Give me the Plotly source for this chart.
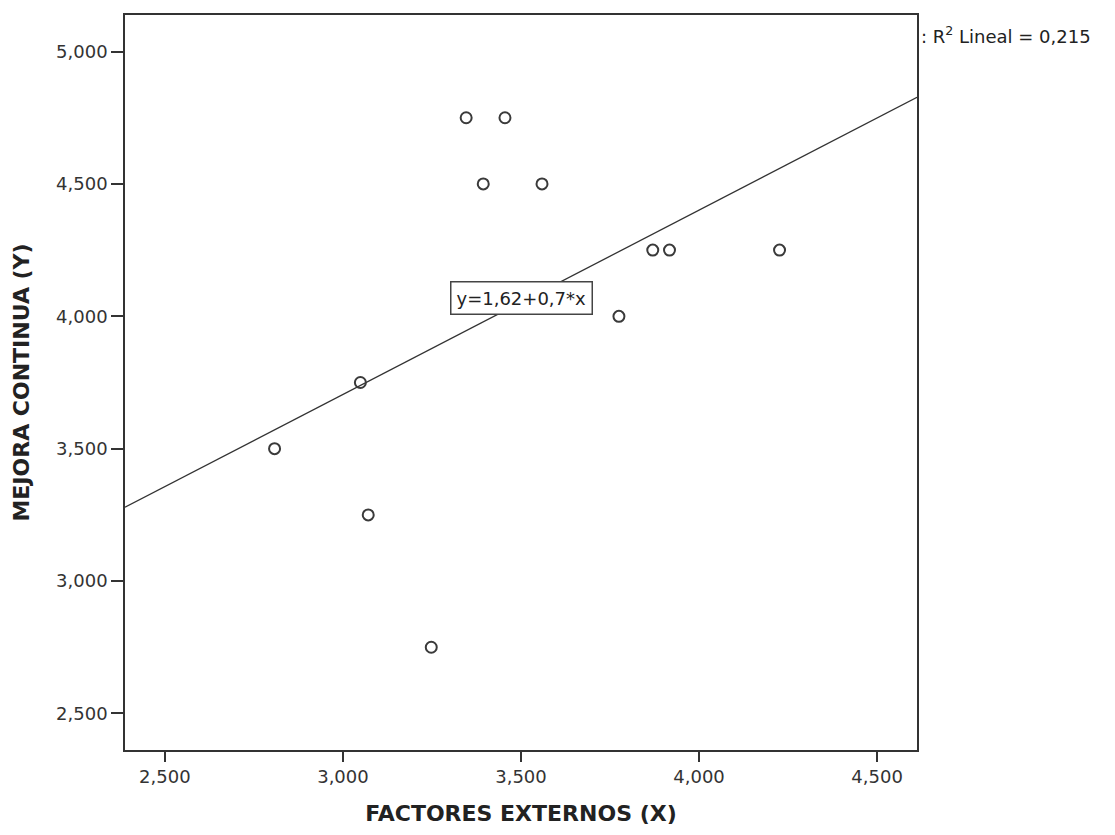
import plotly.graph_objects as go

# Data
factores_externos = [3.346, 3.455, 3.394, 3.559, 3.870, 3.917, 4.226, 3.775, 3.049, 2.808, 3.071, 3.248]
mejora_continua = [4.75, 4.75, 4.50, 4.50, 4.25, 4.25, 4.25, 4.00, 3.75, 3.50, 3.25, 2.75]

fit_intercept = 1.617
fit_slope = 0.696
fit_label = "y=1,62+0,7*x"
r2_label = ": R<sup>2</sup> Lineal = 0,215"

x_tickvals = [2.5, 3.0, 3.5, 4.0, 4.5]
x_ticktext = ["2,500", "3,000", "3,500", "4,000", "4,500"]
y_tickvals = [2.5, 3.0, 3.5, 4.0, 4.5, 5.0]
y_ticktext = ["2,500", "3,000", "3,500", "4,000", "4,500", "5,000"]

x_range = [2.388, 4.612]
y_range = [2.362, 5.138]

line_x = x_range
line_y = [fit_intercept + fit_slope * v for v in line_x]

FONT = "DejaVu Sans, Verdana, sans-serif"

fig = go.Figure()
fig.add_trace(go.Scatter(
    x=line_x, y=line_y, mode="lines",
    line=dict(color="#333333", width=1.3),
    hoverinfo="skip", showlegend=False,
))
fig.add_trace(go.Scatter(
    x=factores_externos, y=mejora_continua, mode="markers",
    marker=dict(symbol="circle-open", size=11, color="#3a3a3a", line=dict(width=2, color="#3a3a3a")),
    showlegend=False,
))

fig.add_annotation(
    x=3.5, y=4.07, xref="x", yref="y", text=fit_label, showarrow=False,
    font=dict(family=FONT, size=18, color="#222222"),
    bgcolor="white", bordercolor="#444444", borderwidth=1.5, borderpad=5,
)
fig.add_annotation(
    x=1.002, y=0.973, xref="paper", yref="paper", text=r2_label, showarrow=False,
    xanchor="left", yanchor="middle",
    font=dict(family=FONT, size=18, color="#222222"),
)

axis_common = dict(
    showgrid=False, zeroline=False, showline=True, linecolor="#333333", linewidth=1.5,
    mirror=True, ticks="outside", tickwidth=1.5, tickcolor="#333333",
    tickfont=dict(family=FONT, size=18, color="#333333"),
)

fig.update_layout(
    width=1100, height=820,
    margin=dict(l=117, r=191, t=5, b=78),
    plot_bgcolor="white", paper_bgcolor="white",
    xaxis=dict(
        **axis_common, ticklen=10, range=x_range, tickvals=x_tickvals, ticktext=x_ticktext,
        title=dict(text="<b>FACTORES EXTERNOS (X)</b>", standoff=19,
                   font=dict(family=FONT, size=22, color="#222222")),
    ),
    yaxis=dict(
        **axis_common, ticklen=12, range=y_range, tickvals=y_tickvals, ticktext=y_ticktext,
        title=dict(text="<b>MEJORA CONTINUA (Y)</b>", standoff=20,
                   font=dict(family=FONT, size=22, color="#222222")),
    ),
)

fig.write_html("out.html")
